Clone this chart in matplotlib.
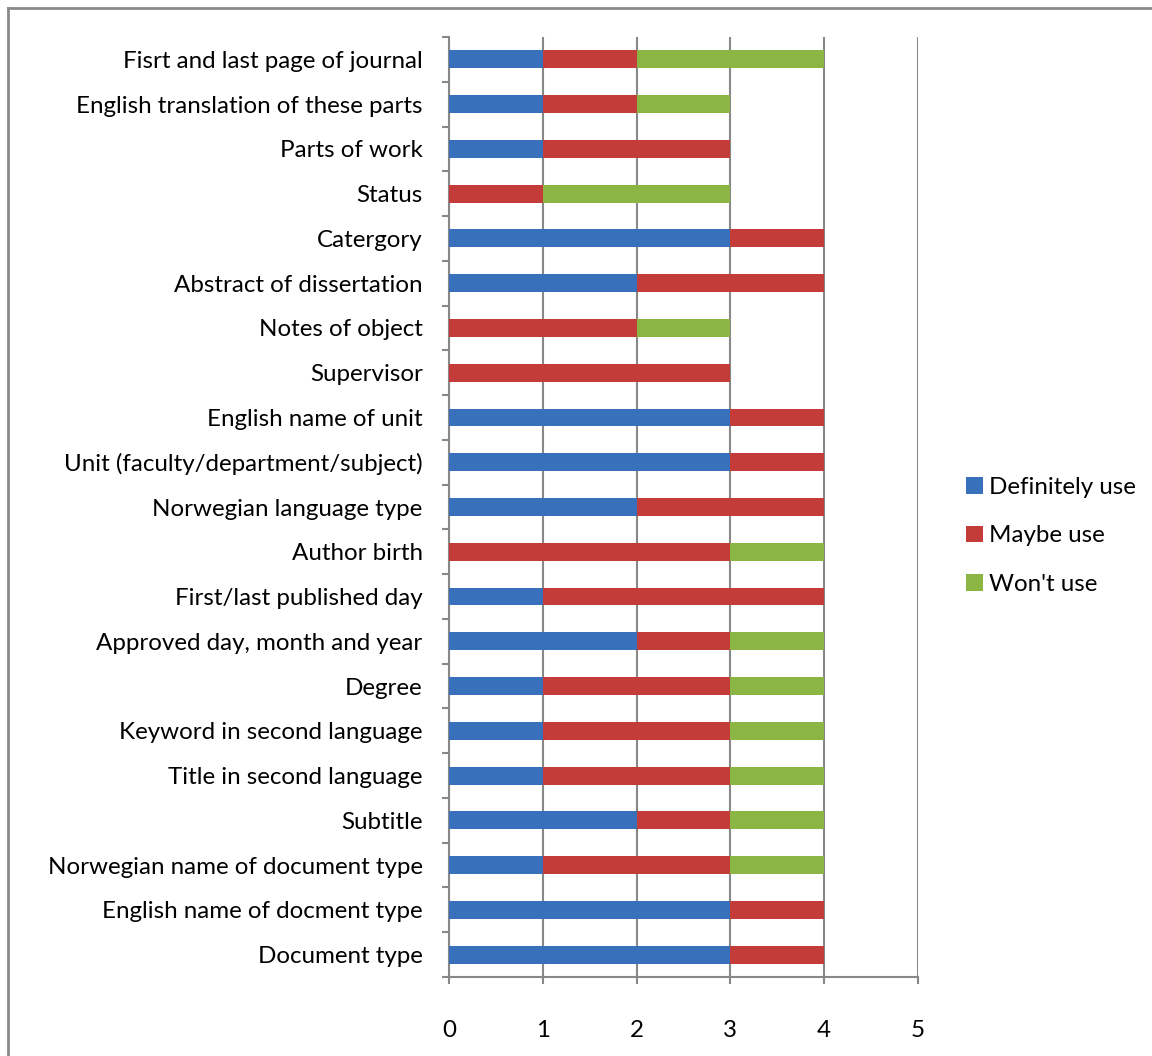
import numpy as np
import matplotlib.pyplot as plt
from matplotlib.lines import Line2D
from matplotlib.patches import Patch

# categories listed from bottom to top
categories = [
    "Document type",
    "English name of docment type",
    "Norwegian name of document type",
    "Subtitle",
    "Title in second language",
    "Keyword in second language",
    "Degree",
    "Approved day, month and year",
    "First/last published day",
    "Author birth",
    "Norwegian language type",
    "Unit (faculty/department/subject)",
    "English name of unit",
    "Supervisor",
    "Notes of object",
    "Abstract of dissertation",
    "Catergory",
    "Status",
    "Parts of work",
    "English translation of these parts",
    "Fisrt and last page of journal",
]
definitely = [3, 3, 1, 2, 1, 1, 1, 2, 1, 0, 2, 3, 3, 0, 0, 2, 3, 0, 1, 1, 1]
maybe      = [1, 1, 2, 1, 2, 2, 2, 1, 3, 3, 2, 1, 1, 3, 2, 2, 1, 1, 2, 1, 1]
wont       = [0, 0, 1, 1, 1, 1, 1, 1, 0, 1, 0, 0, 0, 0, 1, 0, 0, 2, 0, 1, 2]
series_names = ["Definitely use", "Maybe use", "Won't use"]
colors = ["#3870bb", "#c33c3a", "#8cb643"]

plt.rcParams['font.family'] = ['Lato', 'DejaVu Sans']
fs = 17.4

fig = plt.figure(figsize=(11.52, 10.56), dpi=100)
ax = fig.add_axes([449 / 1152, 1 - 977 / 1056, (918 - 449) / 1152, (977 - 37) / 1056])

y = np.arange(len(categories))
left = np.zeros(len(categories))
for vals, name, col in zip([definitely, maybe, wont], series_names, colors):
    vals = np.array(vals, dtype=float)
    ax.barh(y, vals, left=left, height=0.4, color=col, label=name, zorder=3)
    left += vals

ax.set_xlim(0, 5)
ax.set_ylim(-0.5, len(categories) - 0.5)
ax.set_xticks(range(6))
ax.set_yticks(y)
ax.set_yticklabels(categories)
ax.set_yticks(np.arange(-0.5, len(categories), 1), minor=True)

grid_col = "#888888"
ax.grid(axis='x', color=grid_col, linewidth=1.5, zorder=1)
for s in ['top', 'right']:
    ax.spines[s].set_visible(False)
for s in ['left', 'bottom']:
    ax.spines[s].set_color(grid_col)
    ax.spines[s].set_linewidth(1.5)

ax.tick_params(axis='y', which='major', length=0, pad=19, labelsize=fs)
ax.tick_params(axis='y', which='minor', length=5, width=1.5, color=grid_col, direction='out')
ax.tick_params(axis='x', which='major', length=5, width=1.5, color=grid_col,
               direction='out', pad=26, labelsize=fs)

handles = [Patch(facecolor=c, label=n) for c, n in zip(colors, series_names)]
fig.legend(handles=handles, loc='center left', bbox_to_anchor=(944 / 1152, 1 - 536 / 1056),
           frameon=False, fontsize=fs, handlelength=0.7, handleheight=0.7,
           handletextpad=0.25, labelspacing=1.15)

# outer chart border (top and left visible)
fig.add_artist(Line2D([8 / 1152, 1.0], [1 - 8 / 1056, 1 - 8 / 1056], color="#8a8a8a", linewidth=2))
fig.add_artist(Line2D([8 / 1152, 8 / 1152], [0.0, 1 - 8 / 1056], color="#8a8a8a", linewidth=2))

fig.savefig("out.png", dpi=100)
